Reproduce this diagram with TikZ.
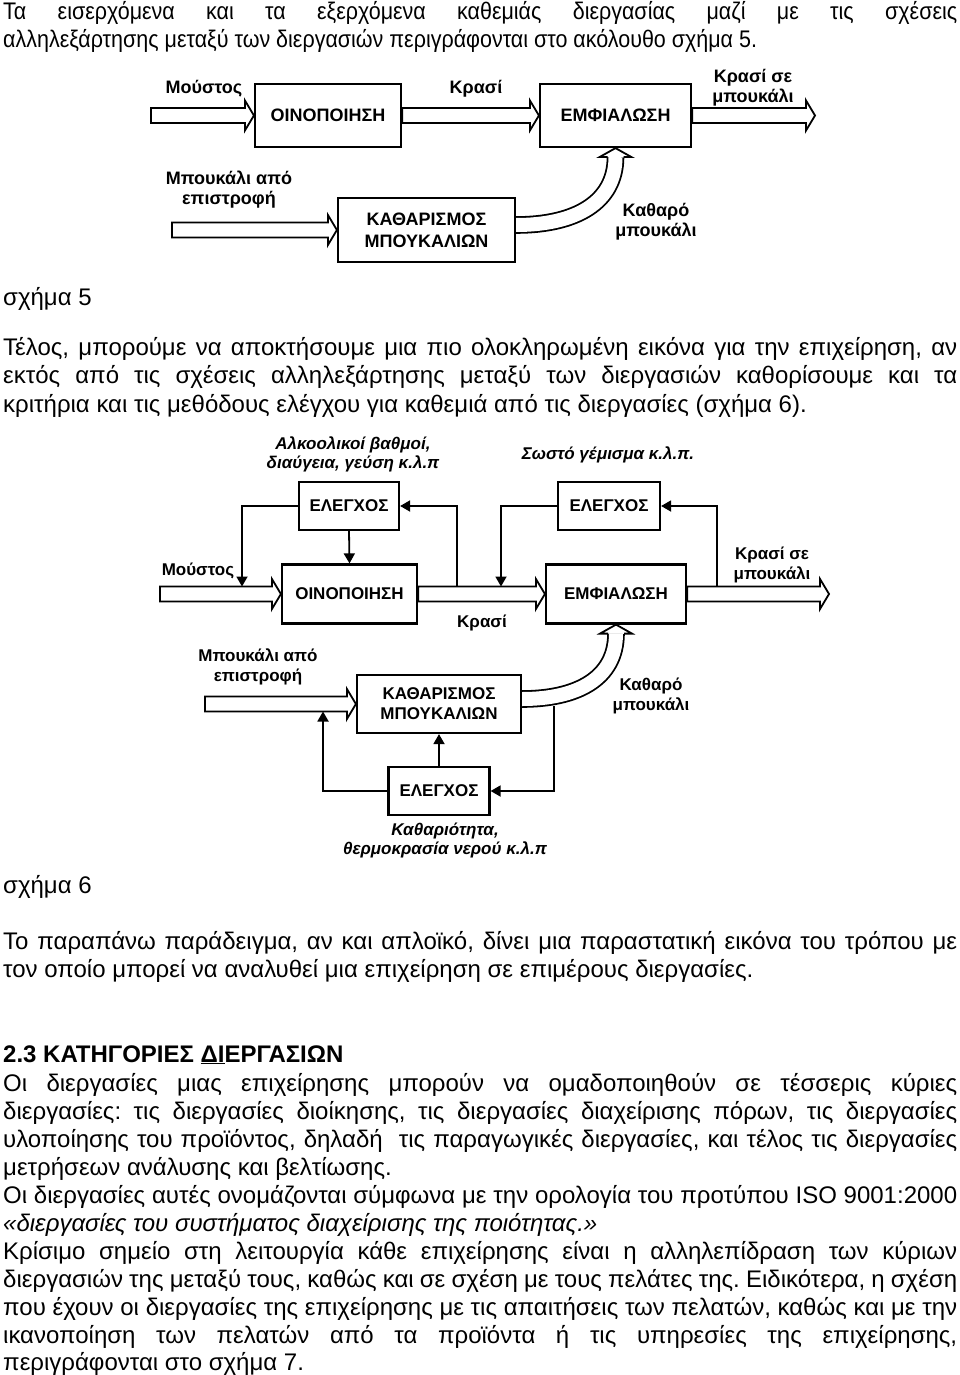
\documentclass[tikz,border=0pt]{standalone}
\usepackage{fontspec}
\setmainfont{Liberation Sans}
\usetikzlibrary{arrows.meta,calc}
\frenchspacing

% hollow block arrow from #1 to the tip #2 (same height)
\newcommand\blockarrow[2]{%
  \draw[blockline] ($#1+(0,7.5)$) -- ($#2+(-9,7.5)$) -- ($#2+(-9,15)$) -- #2
    -- ($#2+(-9,-15)$) -- ($#2+(-9,-7.5)$) -- ($#1+(0,-7.5)$) -- cycle;}
% justified line of body text
\newcommand\jline[1]{\makebox[954pt][s]{#1}}
% condensed text of the first paragraph
\newcommand\cond[1]{\scalebox{0.895}[1]{#1}}

\begin{document}
\begin{tikzpicture}[x=1pt,y=1pt]
\tikzstyle{txt} = [anchor=base west, inner sep=0pt, font=\fontsize{24}{28}\selectfont];
\tikzstyle{box} = [draw, line width=2.2pt, align=center, inner sep=0pt, font=\fontsize{18}{22}\selectfont\bfseries];
\tikzstyle{boxb} = [box, font=\fontsize{17}{20}\selectfont\bfseries];
\tikzstyle{lbl} = [align=center, inner sep=0pt, font=\fontsize{18}{20}\selectfont\bfseries];
\tikzstyle{lblb} = [lbl, font=\fontsize{17}{20}\selectfont\bfseries];
\tikzstyle{note} = [align=center, inner sep=0pt, font=\fontsize{17}{19}\selectfont\bfseries\itshape];
\tikzstyle{blockline} = [draw, line width=1.8pt, fill=white];
\tikzstyle{band} = [line width=1.8pt, double=white, double distance=14pt];
\tikzstyle{ctrl} = [line width=1.8pt, -{Triangle[length=10pt,width=11pt]}];

\useasboundingbox (0,0) rectangle (960,-1375);

% text above
\node[txt] (t1) at (3,-20) {\cond{\makebox[1066pt][s]{Τα εισερχόμενα και τα εξερχόμενα καθεμιάς διεργασίας μαζί με τις σχέσεις}}};
\node[txt] (t2) at (3,-48) {\cond{αλληλεξάρτησης μεταξύ των διεργασιών περιγράφονται στο ακόλουθο σχήμα 5.}};

% figure 5
\node[box, minimum width=146pt, minimum height=63pt] (oino1) at (328,-115.5) {ΟΙΝΟΠΟΙΗΣΗ};
\node[box, minimum width=151pt, minimum height=63pt] (emf1) at (615.5,-115.5) {ΕΜΦΙΑΛΩΣΗ};
\node[box, minimum width=177pt, minimum height=64pt] (kath1) at (426.5,-230) {ΚΑΘΑΡΙΣΜΟΣ\\ΜΠΟΥΚΑΛΙΩΝ};
\coordinate (in1) at (151,-115.5);
\coordinate (out1) at (815,-115.5);
\coordinate (bin1) at (172,-230);
\blockarrow{(in1)}{(oino1.west)}
\blockarrow{(oino1.east)}{(emf1.west)}
\blockarrow{(emf1.east)}{(out1)}
\blockarrow{(bin1)}{(kath1.west)}
\draw[band] ($(kath1.east)+(0,5)$) .. controls +(60,0) and +(0,-45) .. ($(emf1.south)+(0,-9)$);
\draw[blockline] ($(emf1.south)+(-8,-9)$) -- ($(emf1.south)+(-16,-9)$) -- (emf1.south)
  -- ($(emf1.south)+(16,-9)$) -- ($(emf1.south)+(8,-9)$);
\node[lbl] (must1) at (204,-89) {Μούστος};
\node[lbl] (kr1) at (476,-89) {Κρασί};
\node[lbl] (krb1) at (753,-88) {Κρασί σε\\μπουκάλι};
\node[lbl] (ret1) at (229,-190) {Μπουκάλι από\\επιστροφή};
\node[lbl] (cl1) at (656,-222) {Καθαρό\\μπουκάλι};

\node[txt] (cap5) at (3,-305) {σχήμα 5};
\node[txt] (t3) at (3,-355) {\jline{Τέλος, μπορούμε να αποκτήσουμε μια πιο ολοκληρωμένη εικόνα για την επιχείρηση, αν}};
\node[txt] (t4) at (3,-383) {\jline{εκτός από τις σχέσεις αλληλεξάρτησης μεταξύ των διεργασιών καθορίσουμε και τα}};
\node[txt] (t5) at (3,-412) {κριτήρια και τις μεθόδους ελέγχου για καθεμιά από τις διεργασίες (σχήμα 6).};

% figure 6
\node[boxb, minimum width=100pt, minimum height=48pt] (el1) at (349,-506) {ΕΛΕΓΧΟΣ};
\node[boxb, minimum width=102pt, minimum height=48pt] (el2) at (609,-506) {ΕΛΕΓΧΟΣ};
\node[boxb, minimum width=135pt, minimum height=59pt] (oino2) at (349.5,-594) {ΟΙΝΟΠΟΙΗΣΗ};
\node[boxb, minimum width=140pt, minimum height=59pt] (emf2) at (616,-594) {ΕΜΦΙΑΛΩΣΗ};
\node[boxb, minimum width=164pt, minimum height=58pt] (kath2) at (439,-704) {ΚΑΘΑΡΙΣΜΟΣ\\ΜΠΟΥΚΑΛΙΩΝ};
\node[boxb, minimum width=101pt, minimum height=48pt] (el3) at (439,-791) {ΕΛΕΓΧΟΣ};
\coordinate (in2) at (160,-594);
\coordinate (out2) at (829,-594);
\coordinate (bin2) at (205,-704);
\blockarrow{(in2)}{(oino2.west)}
\blockarrow{(oino2.east)}{(emf2.west)}
\blockarrow{(emf2.east)}{(out2)}
\blockarrow{(bin2)}{(kath2.west)}
\draw[band] ($(kath2.east)+(0,5)$) .. controls +(55,0) and +(0,-45) .. ($(emf2.south)+(0,-9)$);
\draw[blockline] ($(emf2.south)+(-8,-9)$) -- ($(emf2.south)+(-16,-9)$) -- (emf2.south)
  -- ($(emf2.south)+(16,-9)$) -- ($(emf2.south)+(8,-9)$);
% control loops
\coordinate (c1) at (242,-586.5);
\coordinate (f1) at (457,-586.5);
\coordinate (c2) at (501,-586.5);
\coordinate (f2) at (717,-586.5);
\coordinate (c3) at (323,-711.5);
\coordinate (f3) at (554,-706);
\draw[ctrl] (el1.west) -| (c1);
\draw[ctrl] (el1.south) -- (oino2.north);
\draw[ctrl] (f1) |- (el1.east);
\draw[ctrl] (el2.west) -| (c2);
\draw[ctrl] (f2) |- (el2.east);
\draw[ctrl] (el3.north) -- (kath2.south);
\draw[ctrl] (el3.west) -| (c3);
\draw[ctrl] (f3) |- (el3.east);
\node[note] (n1) at (353,-454) {Αλκοολικοί βαθμοί,\\διαύγεια, γεύση κ.λ.π};
\node[note] (n2) at (608,-455) {Σωστό γέμισμα κ.λ.π.};
\node[note] (n3) at (445,-840) {Καθαριότητα,\\θερμοκρασία νερού κ.λ.π};
\node[lblb] (must2) at (198,-571) {Μούστος};
\node[lblb] (kr2) at (482,-623) {Κρασί};
\node[lblb] (krb2) at (772,-565) {Κρασί σε\\μπουκάλι};
\node[lblb] (ret2) at (258,-667) {Μπουκάλι από\\επιστροφή};
\node[lblb] (cl2) at (651,-696) {Καθαρό\\μπουκάλι};

\node[txt] (cap6) at (3,-893) {σχήμα 6};
\node[txt] (t6) at (3,-949) {\jline{Το παραπάνω παράδειγμα, αν και απλοϊκό, δίνει μια παραστατική εικόνα του τρόπου με}};
\node[txt] (t7) at (3,-977) {τον οποίο μπορεί να αναλυθεί μια επιχείρηση σε επιμέρους διεργασίες.};

% section 2.3
\node[txt, font=\fontsize{24}{28}\selectfont\bfseries] (h23) at (3,-1062) {2.3 ΚΑΤΗΓΟΡΙΕΣ \underline{ΔΙ}ΕΡΓΑΣΙΩΝ};
\node[txt] (p1) at (3,-1091) {\jline{Οι διεργασίες μιας επιχείρησης μπορούν να ομαδοποιηθούν σε τέσσερις κύριες}};
\node[txt] (p2) at (3,-1119) {\jline{διεργασίες: τις διεργασίες διοίκησης, τις διεργασίες διαχείρισης πόρων, τις διεργασίες}};
\node[txt] (p3) at (3,-1147) {\jline{υλοποίησης του προϊόντος, δηλαδή\ \ τις παραγωγικές διεργασίες, και τέλος τις διεργασίες}};
\node[txt] (p4) at (3,-1175) {μετρήσεων ανάλυσης και βελτίωσης.};
\node[txt] (p5) at (3,-1203) {\jline{Οι διεργασίες αυτές ονομάζονται σύμφωνα με την ορολογία του προτύπου ISO 9001:2000}};
\node[txt] (p6) at (3,-1231) {\itshape «διεργασίες του συστήματος διαχείρισης της ποιότητας.»};
\node[txt] (p7) at (3,-1259) {\jline{Κρίσιμο σημείο στη λειτουργία κάθε επιχείρησης είναι η αλληλεπίδραση των κύριων}};
\node[txt] (p8) at (3,-1287) {\jline{διεργασιών της μεταξύ τους, καθώς και σε σχέση με τους πελάτες της. Ειδικότερα, η σχέση}};
\node[txt] (p9) at (3,-1315) {\jline{που έχουν οι διεργασίες της επιχείρησης με τις απαιτήσεις των πελατών, καθώς και με την}};
\node[txt] (p10) at (3,-1343) {\jline{ικανοποίηση των πελατών από τα προϊόντα ή τις υπηρεσίες της επιχείρησης,}};
\node[txt] (p11) at (3,-1370) {περιγράφονται στο σχήμα 7.};
\end{tikzpicture}
\end{document}
